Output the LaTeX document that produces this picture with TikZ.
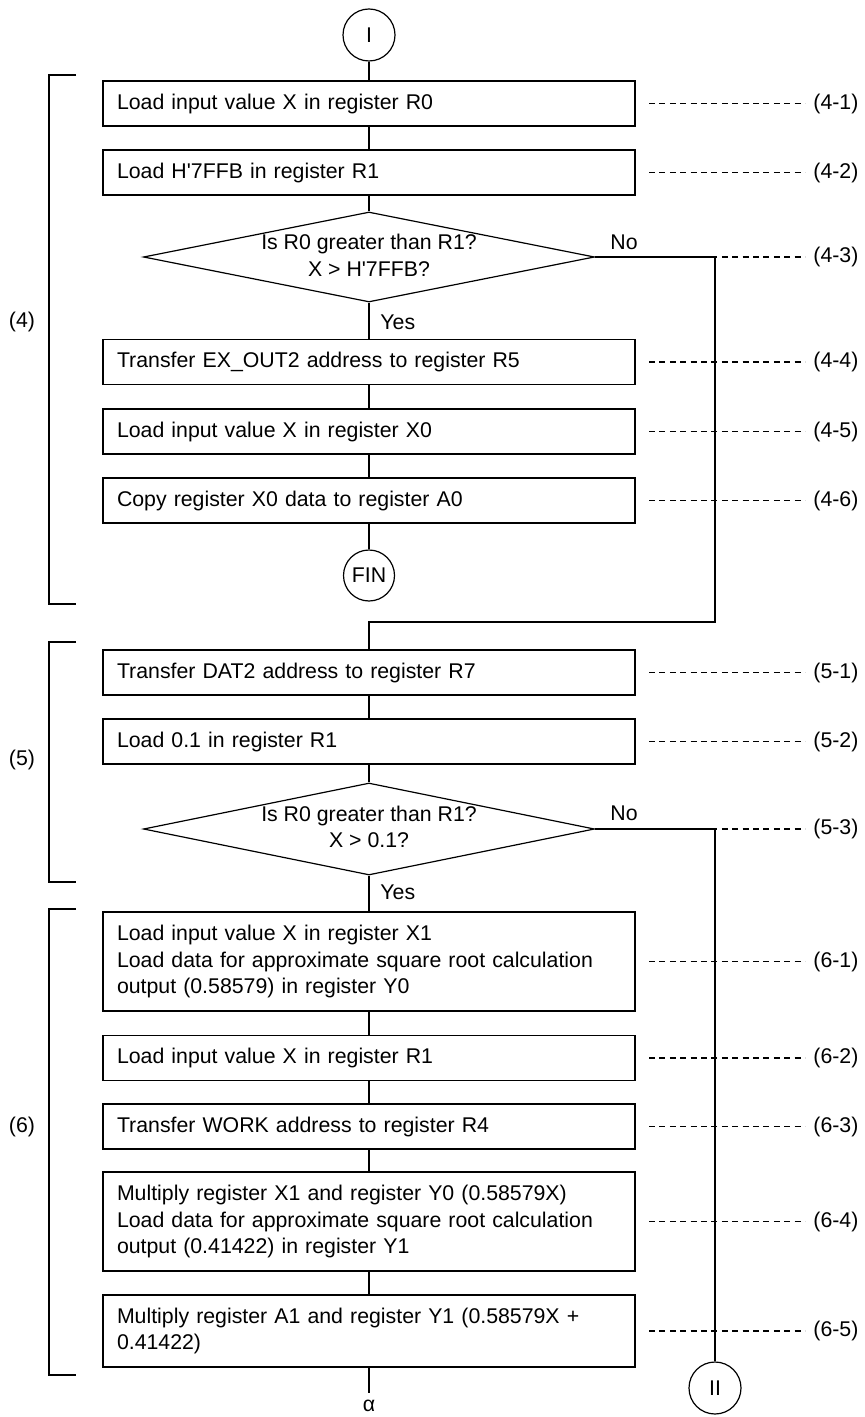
\documentclass[tikz,border=0pt]{standalone}
\usepackage{fontspec}
\setmainfont{Liberation Sans}
\usetikzlibrary{shapes.geometric}
\begin{document}
\begin{tikzpicture}[x=0.5pt,y=-0.5pt,
  every node/.style={font=\fontsize{10.65pt}{13.3pt}\selectfont},
  ln/.style={line width=0.6pt},
  proc/.style={draw, line width=0.6pt, rectangle, text width=252pt, inner xsep=7pt, inner ysep=0pt, align=left, minimum height=22.5pt},
  proctwo/.style={proc, minimum height=36pt},
  procthree/.style={proc, minimum height=49.5pt},
  dec/.style={draw, line width=0.6pt, diamond, minimum width=225.5pt, minimum height=45pt, inner sep=0pt},
  conn/.style={draw, line width=0.6pt, circle, minimum size=26pt, inner sep=0pt},
  dashline/.style={line width=0.6pt, dash pattern=on 3pt off 2.2pt},
  lab/.style={anchor=west, inner sep=0pt}
]
\useasboundingbox (0,0) rectangle (865,1417);

% brackets
\draw[ln] (76,75) -- (49,75) -- (49,604) -- (76,604);
\draw[ln] (76,642) -- (49,642) -- (49,882) -- (76,882);
\draw[ln] (76,909) -- (49,909) -- (49,1375) -- (76,1375);
\node (g4) at (22,322) {(4)};
\node (g5) at (22,760) {(5)};
\node (g6) at (22,1127) {(6)};

% nodes
\node[conn] (I) at (369,35) {I};
\node[proc] (b41) at (369,103.5) {Load input value X in register R0};
\node[proc] (b42) at (369,172.5) {Load H\textquotesingle7FFB in register R1};
\node[dec] (d1) at (369,257) {};
\node[align=center, inner sep=0pt] (t1) at (369,255) {Is R0 greater than R1?\\X > H\textquotesingle7FFB?};
\node[proc] (b44) at (369,362) {Transfer EX\_OUT2 address to register R5};
\node[proc] (b45) at (369,431.5) {Load input value X in register X0};
\node[proc] (b46) at (369,500.5) {Copy register X0 data to register A0};
\node[conn, minimum size=25.5pt] (FIN) at (369,575.5) {FIN};

\node[proc] (b51) at (369,672.5) {Transfer DAT2 address to register R7};
\node[proc] (b52) at (369,741.5) {Load 0.1 in register R1};
\node[dec, minimum height=46pt] (d2) at (369,829) {};
\node[align=center, inner sep=0pt] (t2) at (369,827) {Is R0 greater than R1?\\X > 0.1?};

\node[procthree] (b61) at (369,961.5) {Load input value X in register X1\\Load data for approximate square root calculation\\output (0.58579) in register Y0};
\node[proc] (b62) at (369,1058) {Load input value X in register R1};
\node[proc] (b63) at (369,1126.5) {Transfer WORK address to register R4};
\node[procthree] (b64) at (369,1221.5) {Multiply register X1 and register Y0 (0.58579X)\\Load data for approximate square root calculation\\output (0.41422) in register Y1};
\node[proctwo] (b65) at (369,1331) {Multiply register A1 and register Y1 (0.58579X +\\0.41422)};
\node[conn] (II) at (715,1388) {II};
\node[inner sep=0pt] (alpha) at (369,1406) {α};

% yes / no labels
\node[lab] (yes1) at (380,322) {Yes};
\node[lab] (yes2) at (380,892) {Yes};
\node[lab] (no1) at (610,242) {No};
\node[lab] (no2) at (610,813) {No};

% connectors
\coordinate (r1) at (715,257);
\coordinate (r1b) at (715,622);
\coordinate (j1) at (369,622);
\coordinate (r2) at (715,829);
\coordinate (a0) at (369,1393);
\draw[ln] (I) -- (b41);
\draw[ln] (b41) -- (b42);
\draw[ln] (b42) -- (d1.north);
\draw[ln] (d1.south) -- (b44);
\draw[ln] (b44) -- (b45);
\draw[ln] (b45) -- (b46);
\draw[ln] (b46) -- (FIN);
\draw[ln] (d1.east) -- (r1) -- (r1b) -- (j1) -- (b51.north);
\draw[ln] (b51) -- (b52);
\draw[ln] (b52) -- (d2.north);
\draw[ln] (d2.south) -- (b61);
\draw[ln] (b61) -- (b62);
\draw[ln] (b62) -- (b63);
\draw[ln] (b63) -- (b64);
\draw[ln] (b64) -- (b65);
\draw[ln] (b65.south) -- (a0);
\draw[ln] (d2.east) -- (r2) -- (II.north);

% step labels
\foreach \n/\y in {41/103.5, 42/172.5, 43/257, 44/362, 45/431.5, 46/500.5, 51/672.5, 52/741.5, 53/829, 61/961.5, 62/1058, 63/1126.5, 64/1221.5, 65/1331}{
  \coordinate (s\n) at (649,\y);
}
\node[lab] (l41) at (813,103.5) {(4-1)};
\node[lab] (l42) at (813,172.5) {(4-2)};
\node[lab] (l43) at (813,257) {(4-3)};
\node[lab] (l44) at (813,362) {(4-4)};
\node[lab] (l45) at (813,431.5) {(4-5)};
\node[lab] (l46) at (813,500.5) {(4-6)};
\node[lab] (l51) at (813,672.5) {(5-1)};
\node[lab] (l52) at (813,741.5) {(5-2)};
\node[lab] (l53) at (813,829) {(5-3)};
\node[lab] (l61) at (813,961.5) {(6-1)};
\node[lab] (l62) at (813,1058) {(6-2)};
\node[lab] (l63) at (813,1126.5) {(6-3)};
\node[lab] (l64) at (813,1221.5) {(6-4)};
\node[lab] (l65) at (813,1331) {(6-5)};
\foreach \n in {41,42,43,44,45,46,51,52,53,61,62,63,64,65}{
  \draw[dashline] (s\n) -- ([xshift=-4pt]l\n.west);
}
\end{tikzpicture}
\end{document}
